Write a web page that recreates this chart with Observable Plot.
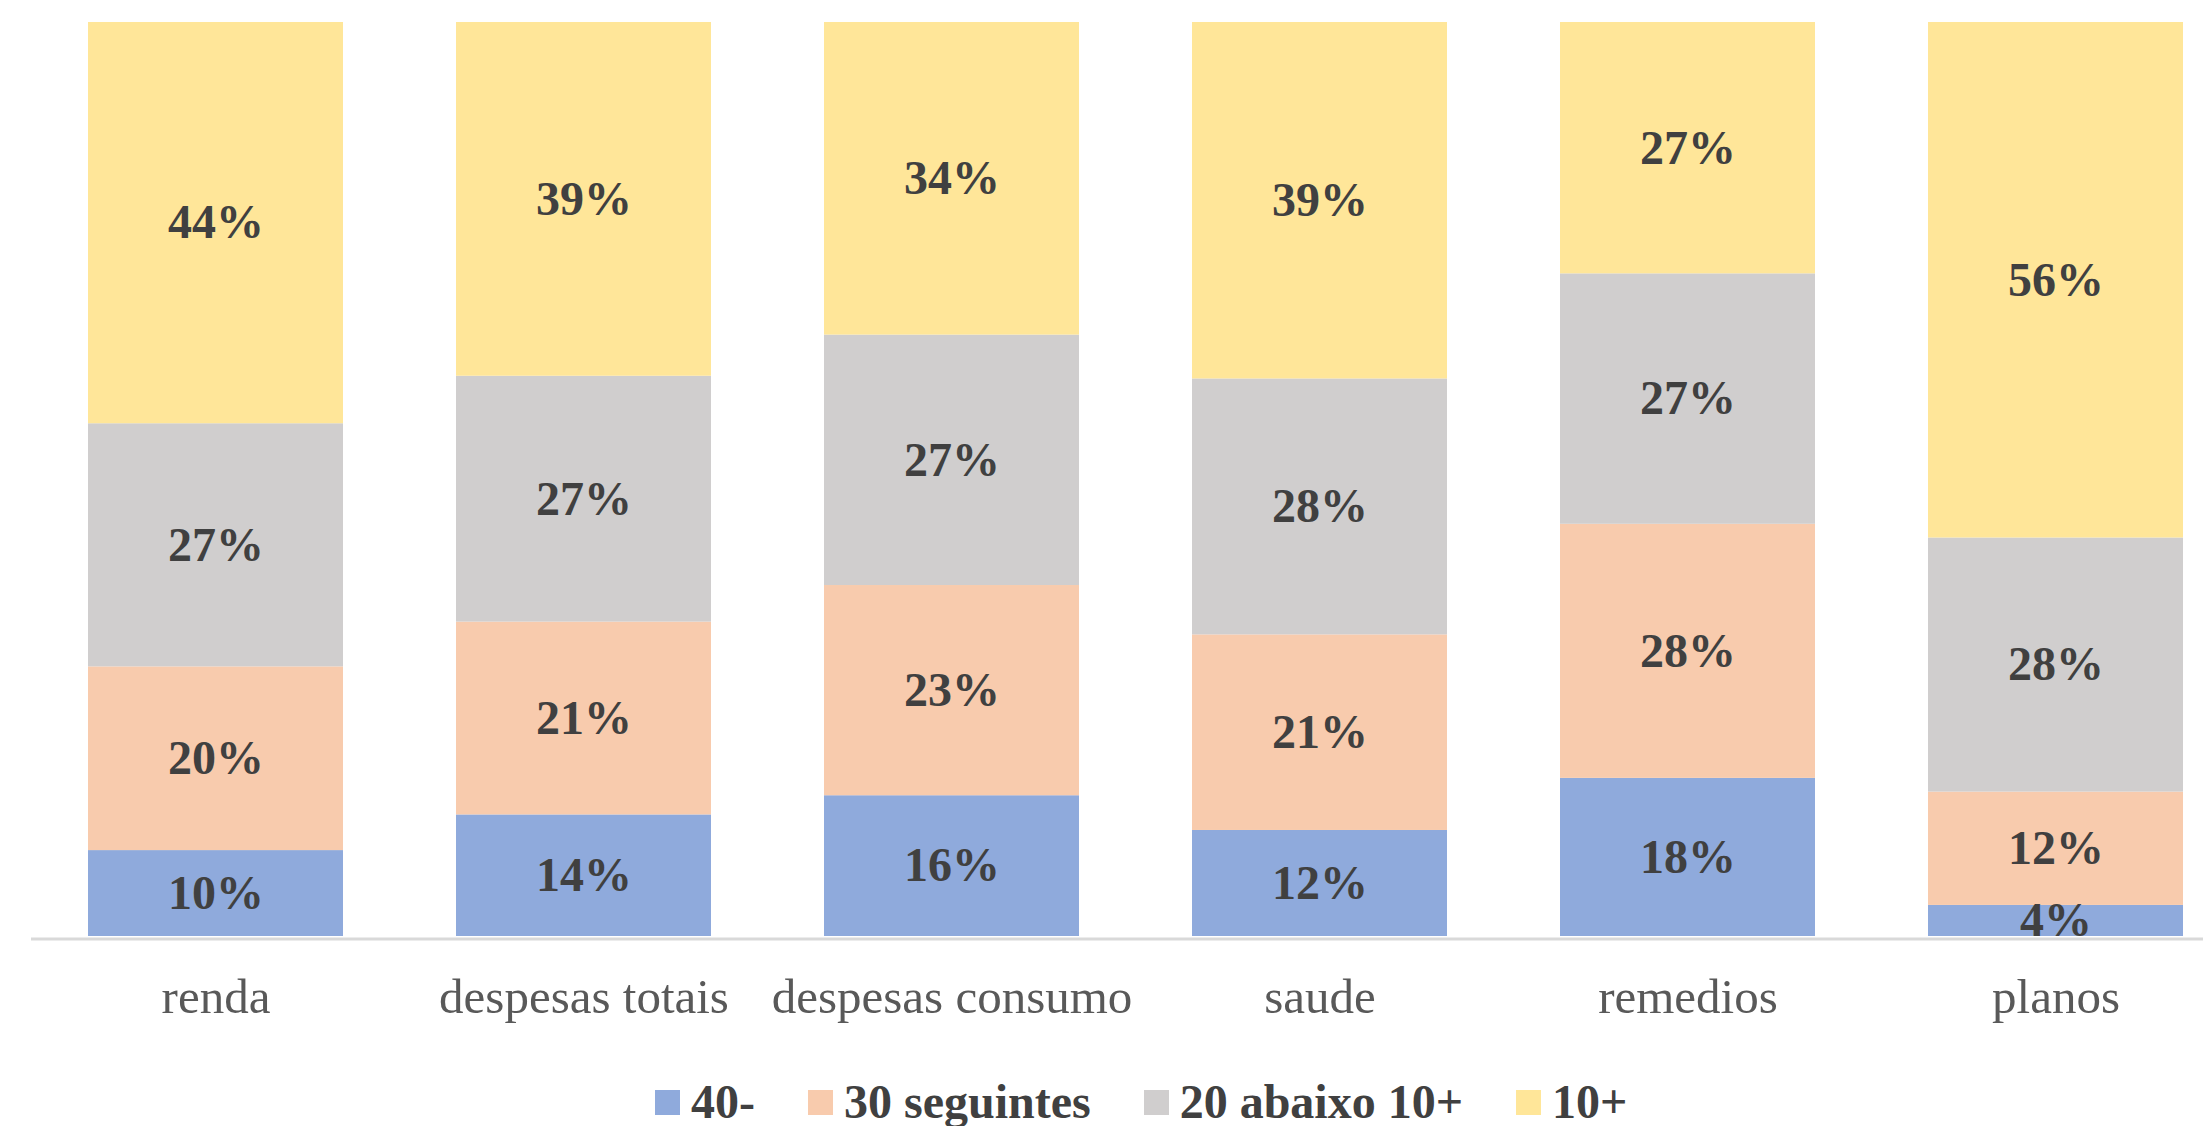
<!DOCTYPE html>
<html>
<head>
<meta charset="utf-8">
<script src="https://cdn.jsdelivr.net/npm/d3@7"></script>
<script src="https://cdn.jsdelivr.net/npm/@observablehq/plot@0.6"></script>
<style>
  html, body { margin: 0; padding: 0; background: #ffffff; overflow: hidden; }
  #wrap { position: relative; width: 2203px; height: 1126px; }
  #legend { position: absolute; top: 1078px; left: 655px; display: flex; align-items: flex-start;
    font-family: "Liberation Serif", "Times New Roman", serif; font-weight: bold; font-size: 48px;
    line-height: 48px; color: #404040; white-space: nowrap; }
  .item { display: flex; align-items: flex-start; margin-right: 53px; }
  .sw { width: 25px; height: 25px; margin-top: 12px; margin-right: 11px; }
</style>
</head>
<body>
<div id="wrap"><div id="chart"></div><div id="legend"></div></div>
<script>
const categories = ["renda", "despesas totais", "despesas consumo", "saude", "remedios", "planos"];
const seriesNames = ["40-", "30 seguintes", "20 abaixo 10+", "10+"];
const seriesColors = ["#8FAADC", "#F8CBAD", "#D0CECE", "#FFE699"];

// shares (percent)
const share40 = [9.4, 13.3, 15.4, 11.6, 17.3, 3.4];
const share30 = [20.1, 21.1, 23.0, 21.4, 27.8, 12.4];
const share20 = [26.6, 26.9, 27.4, 28.0, 27.4, 27.8];
const share10 = [43.9, 38.7, 34.2, 39.0, 27.5, 56.4];

// printed data labels
const label40 = ["10%", "14%", "16%", "12%", "18%", "4%"];
const label30 = ["20%", "21%", "23%", "21%", "28%", "12%"];
const label20 = ["27%", "27%", "27%", "28%", "27%", "28%"];
const label10 = ["44%", "39%", "34%", "39%", "27%", "56%"];

const shares = [share40, share30, share20, share10];
const labels = [label40, label30, label20, label10];

const rows = [];
categories.forEach((c, i) => {
  seriesNames.forEach((s, j) => {
    rows.push({cat: c, series: s, value: shares[j][i], label: labels[j][i]});
  });
});

const serif = "'Liberation Serif', 'Times New Roman', serif";
const H = 1060;

const chart = Plot.plot({
  width: 2203,
  height: H,
  marginTop: 22,
  marginBottom: H - 936,
  marginLeft: 31,
  marginRight: 0,
  style: {background: "#ffffff", fontFamily: serif},
  x: {domain: categories, range: [31.5, 2239.5], paddingInner: 0.307, paddingOuter: 0.1535, label: null},
  y: {domain: [0, 100], axis: null},
  color: {domain: seriesNames, range: seriesColors},
  marks: [
    Plot.barY(rows, Plot.stackY({x: "cat", y: "value", z: "series", fill: "series"})),
    Plot.ruleY([0], {stroke: "#D9D9D9", strokeWidth: 3, dy: 2.5}),
    Plot.text(rows, Plot.stackY({
      x: "cat", y: "value", z: "series", text: "label",
      fontSize: 48, fontWeight: "bold", fontFamily: serif, fill: "#404040"
    })),
    Plot.axisX({tickSize: 0, tickPadding: 42, fontSize: 49, fontFamily: serif, color: "#595959", label: null})
  ]
});
document.getElementById("chart").appendChild(chart);

const legend = document.getElementById("legend");
seriesNames.forEach((s, j) => {
  const item = document.createElement("div");
  item.className = "item";
  const sw = document.createElement("div");
  sw.className = "sw";
  sw.style.background = seriesColors[j];
  const t = document.createElement("span");
  t.textContent = s;
  item.appendChild(sw);
  item.appendChild(t);
  legend.appendChild(item);
});
</script>
</body>
</html>
